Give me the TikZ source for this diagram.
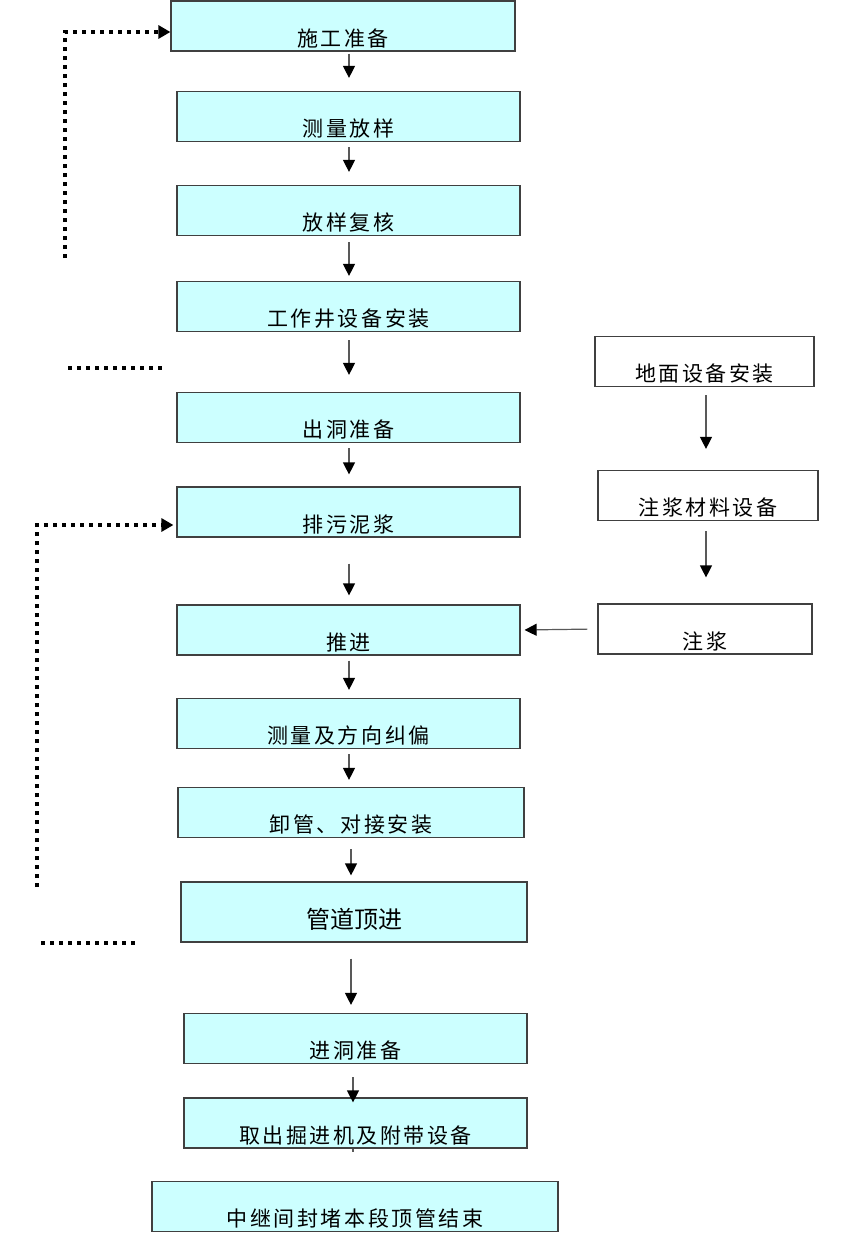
\documentclass[tikz,border=0pt]{standalone}
\usepackage{fontspec}
\setmainfont{Noto Sans CJK SC}
\usetikzlibrary{arrows.meta}
\definecolor{boxcyan}{HTML}{CCFFFF}
\tikzset{
  stepbox/.style={draw=black!75, line width=1.2pt, fill=boxcyan, inner sep=0pt,
    text height=45pt, text depth=5pt,
    font=\fontsize{21}{21}\selectfont\addfontfeature{LetterSpace=12}},
  sidebox/.style={stepbox, fill=white},
  flow/.style={draw=black!65, line width=1.2pt, -{Triangle[width=12pt,length=12pt,black]}},
  dotline/.style={line width=3.5pt, dash pattern=on 4pt off 5pt},
}
\begin{document}
\begin{tikzpicture}[x=1pt,y=-1pt]
\path[fill=white,use as bounding box] (0,0) rectangle (864,1248);

\node[stepbox, minimum width=344pt] (b1) at (343,26) {施工准备};
\node[stepbox, minimum width=343pt] (b2) at (348.5,116.5) {测量放样};
\node[stepbox, minimum width=343pt] (b3) at (348.5,210.5) {放样复核};
\node[stepbox, minimum width=343pt] (b4) at (348.5,306.5) {工作井设备安装};
\node[stepbox, minimum width=343pt] (b5) at (348.5,417.5) {出洞准备};
\node[stepbox, minimum width=343pt] (b6) at (348.5,512) {排污泥浆};
\node[stepbox, minimum width=343pt] (b7) at (348.5,630) {推进};
\node[stepbox, minimum width=343pt] (b8) at (348.5,723.5) {测量及方向纠偏};
\node[stepbox, minimum width=346pt] (b9) at (351,812.5) {卸管、对接安装};
\node[stepbox, minimum width=346pt, text height=46pt, text depth=14pt,
  font=\fontsize{24}{24}\selectfont] (b10) at (354,912) {管道顶进};
\node[stepbox, minimum width=343pt] (b11) at (355.5,1038.5) {进洞准备};
\node[stepbox, minimum width=343pt] (b12) at (355.5,1123) {取出掘进机及附带设备};
\node[stepbox, minimum width=406pt] (b13) at (355,1206.5) {中继间封堵本段顶管结束};

\node[sidebox, minimum width=219pt] (r1) at (704.5,361.5) {地面设备安装};
\node[sidebox, minimum width=220pt] (r2) at (708,495.5) {注浆材料设备};
\node[sidebox, minimum width=214pt] (r3) at (705,629) {注浆};

\coordinate (axisA) at (349,0);
\coordinate (axisB) at (351,0);
\coordinate (axisC) at (353,0);
\coordinate (axisR) at (706,0);

\draw[flow, shorten <=2pt, shorten >=13pt] (b1.south -| axisA) -- (b2.north -| axisA);
\draw[flow, shorten <=5pt, shorten >=13pt] (b2.south -| axisA) -- (b3.north -| axisA);
\draw[flow, shorten <=6pt, shorten >=5pt] (b3.south -| axisA) -- (b4.north -| axisA);
\draw[flow, shorten <=8pt, shorten >=17pt] (b4.south -| axisA) -- (b5.north -| axisA);
\draw[flow, shorten <=5pt, shorten >=12pt] (b5.south -| axisA) -- (b6.north -| axisA);
\draw[flow, shorten <=26pt, shorten >=9pt] (b6.south -| axisA) -- (b7.north -| axisA);
\draw[flow, shorten <=5pt, shorten >=8pt] (b7.south -| axisA) -- (b8.north -| axisA);
\draw[flow, shorten <=5pt, shorten >=7pt] (b8.south -| axisA) -- (b9.north -| axisA);
\draw[flow, shorten <=11pt, shorten >=6pt] (b9.south -| axisB) -- (b10.north -| axisB);
\draw[flow, shorten <=16pt, shorten >=8pt] (b10.south -| axisB) -- (b11.north -| axisB);
\draw[flow, shorten <=13pt, shorten >=-5pt] (b11.south -| axisC) -- (b12.north -| axisC);
\draw[draw=black!65, line width=1.2pt, shorten >=29pt] (b12.south -| axisC) -- (b13.north -| axisC);

\draw[flow, shorten <=8pt, shorten >=21pt] (r1.south -| axisR) -- (r2.north -| axisR);
\draw[flow, shorten <=10pt, shorten >=26pt] (r2.south -| axisR) -- (r3.north -| axisR);
\draw[flow, shorten <=10pt, shorten >=4pt] (r3.west) -- (b7.east);

\coordinate (backA) at (65,258);
\coordinate (backB) at (37,887);
\draw[dotline, -{Triangle[width=13pt,length=12pt]}] (backA) |- ([yshift=-6pt]b1.west);
\draw[dotline, -{Triangle[width=13pt,length=12pt]}, shorten >=3pt] (backB) |- ([yshift=-13pt]b6.west);

\coordinate (gapA) at (68,368);
\coordinate (gapB) at (165,368);
\coordinate (gapC) at (41,943);
\coordinate (gapD) at (138,943);
\draw[dotline] (gapA) -- (gapB);
\draw[dotline] (gapC) -- (gapD);
\end{tikzpicture}
\end{document}
